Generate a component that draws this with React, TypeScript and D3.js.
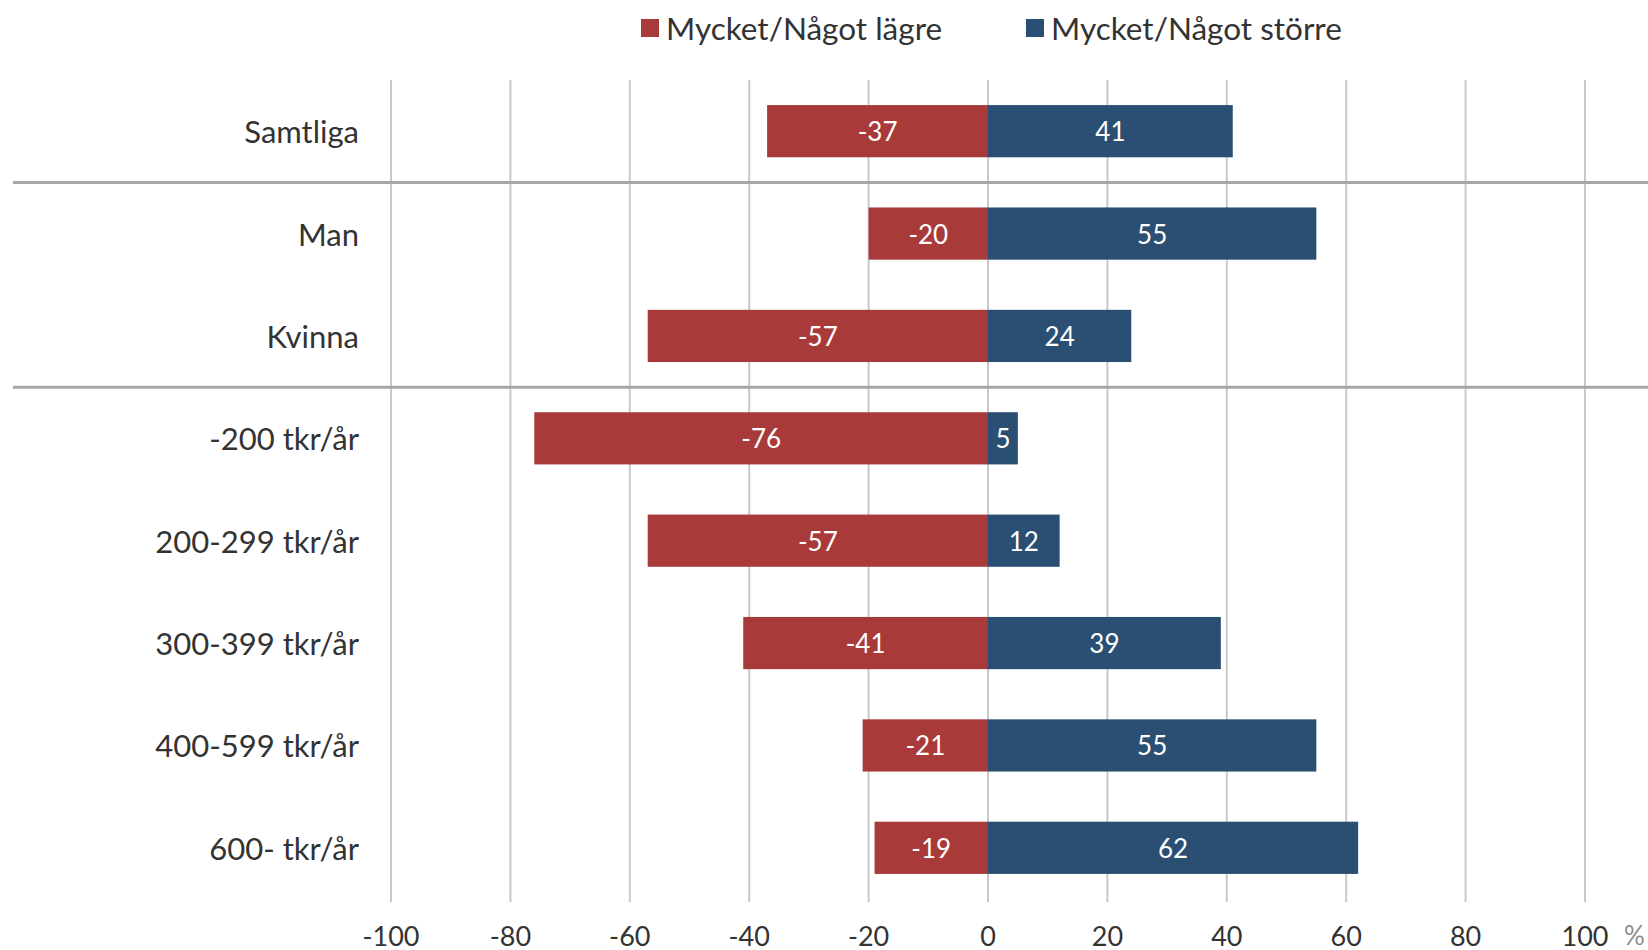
import { useEffect, useRef } from "react";
import * as d3 from "d3";

// Categories (top to bottom)
const categories = [
  "Samtliga",
  "Man",
  "Kvinna",
  "-200 tkr/år",
  "200-299 tkr/år",
  "300-399 tkr/år",
  "400-599 tkr/år",
  "600- tkr/år",
];

// Share answering "lower" (negative) and "larger"
const lowerValues = [-37, -20, -57, -76, -57, -41, -21, -19];
const largerValues = [41, 55, 24, 5, 12, 39, 55, 62];

const xTicks = [-100, -80, -60, -40, -20, 0, 20, 40, 60, 80, 100];

const seriesNames = ["Mycket/Något lägre", "Mycket/Något större"];
const seriesColors = ["#a83b3a", "#2a4f72"];

// rows after which a group separator is drawn
const groupBreaks = ["Samtliga", "Kvinna"];

const WIDTH = 1648;
const HEIGHT = 950;
const FONT = "'Lato', 'Open Sans', sans-serif";

export default function App() {
  const svgRef = useRef<SVGSVGElement | null>(null);

  useEffect(() => {
    if (!svgRef.current) return;
    document.body.style.margin = "0";

    const svg = d3.select(svgRef.current);
    svg.selectAll("*").remove();

    const x = d3.scaleLinear().domain([-100, 100]).range([391, 1585]);
    const y = d3.scaleBand<string>()
      .domain(categories)
      .range([80, 899])
      .paddingInner(0.49)
      .paddingOuter(0.245);

    // vertical gridlines
    svg.append("g")
      .selectAll("line")
      .data(xTicks)
      .join("line")
      .attr("x1", (d) => x(d))
      .attr("x2", (d) => x(d))
      .attr("y1", 80)
      .attr("y2", 902)
      .attr("stroke", "#c9c9c9")
      .attr("stroke-width", 2);

    // group separators
    const step = y.step();
    const sepY = (c: string) => (y(c) as number) + y.bandwidth() + (step - y.bandwidth()) / 2;
    svg.append("g")
      .selectAll("line")
      .data(groupBreaks)
      .join("line")
      .attr("x1", 13)
      .attr("x2", WIDTH)
      .attr("y1", (d) => sepY(d))
      .attr("y2", (d) => sepY(d))
      .attr("stroke", "#a6a6a6")
      .attr("stroke-width", 3);

    const rows = categories.map((c, i) => ({ c, lo: lowerValues[i], hi: largerValues[i] }));
    const bars = svg.append("g");

    [
      { key: "lo" as const, color: seriesColors[0] },
      { key: "hi" as const, color: seriesColors[1] },
    ].forEach((s) => {
      bars.append("g")
        .selectAll("rect")
        .data(rows)
        .join("rect")
        .attr("x", (d) => Math.min(x(0), x(d[s.key])))
        .attr("width", (d) => Math.abs(x(d[s.key]) - x(0)))
        .attr("y", (d) => y(d.c) as number)
        .attr("height", y.bandwidth())
        .attr("fill", s.color);

      bars.append("g")
        .selectAll("text")
        .data(rows)
        .join("text")
        .attr("x", (d) => (x(0) + x(d[s.key])) / 2)
        .attr("y", (d) => (y(d.c) as number) + y.bandwidth() / 2)
        .attr("text-anchor", "middle")
        .attr("dominant-baseline", "central")
        .attr("fill", "#ffffff")
        .attr("font-family", FONT)
        .attr("font-size", 26)
        .text((d) => String(d[s.key]));
    });

    // category labels
    svg.append("g")
      .selectAll("text")
      .data(categories)
      .join("text")
      .attr("x", 359)
      .attr("y", (d) => (y(d) as number) + y.bandwidth() / 2)
      .attr("text-anchor", "end")
      .attr("dominant-baseline", "central")
      .attr("fill", "#333333")
      .attr("font-family", FONT)
      .attr("font-size", 31)
      .text((d) => d);

    // x tick labels
    svg.append("g")
      .selectAll("text")
      .data(xTicks)
      .join("text")
      .attr("x", (d) => x(d))
      .attr("y", 935)
      .attr("text-anchor", "middle")
      .attr("dominant-baseline", "central")
      .attr("fill", "#333333")
      .attr("font-family", FONT)
      .attr("font-size", 27)
      .text((d) => String(d));

    svg.append("text")
      .attr("x", 1624)
      .attr("y", 935)
      .attr("dominant-baseline", "central")
      .attr("fill", "#8c8c8c")
      .attr("font-family", FONT)
      .attr("font-size", 26)
      .text("%");

    // legend
    const legendX = [641, 1026];
    const legend = svg.append("g")
      .selectAll("g")
      .data(seriesNames)
      .join("g")
      .attr("transform", (_, i) => `translate(${legendX[i]},28)`);
    legend.append("rect")
      .attr("x", 0)
      .attr("y", -9)
      .attr("width", 18)
      .attr("height", 18)
      .attr("fill", (_, i) => seriesColors[i]);
    legend.append("text")
      .attr("x", 25)
      .attr("y", 0)
      .attr("dominant-baseline", "central")
      .attr("fill", "#333333")
      .attr("font-family", FONT)
      .attr("font-size", 31.5)
      .text((d) => d);
  }, []);

  return (
    <svg
      ref={svgRef}
      width={WIDTH}
      height={HEIGHT}
      style={{ display: "block", background: "#ffffff" }}
    />
  );
}
